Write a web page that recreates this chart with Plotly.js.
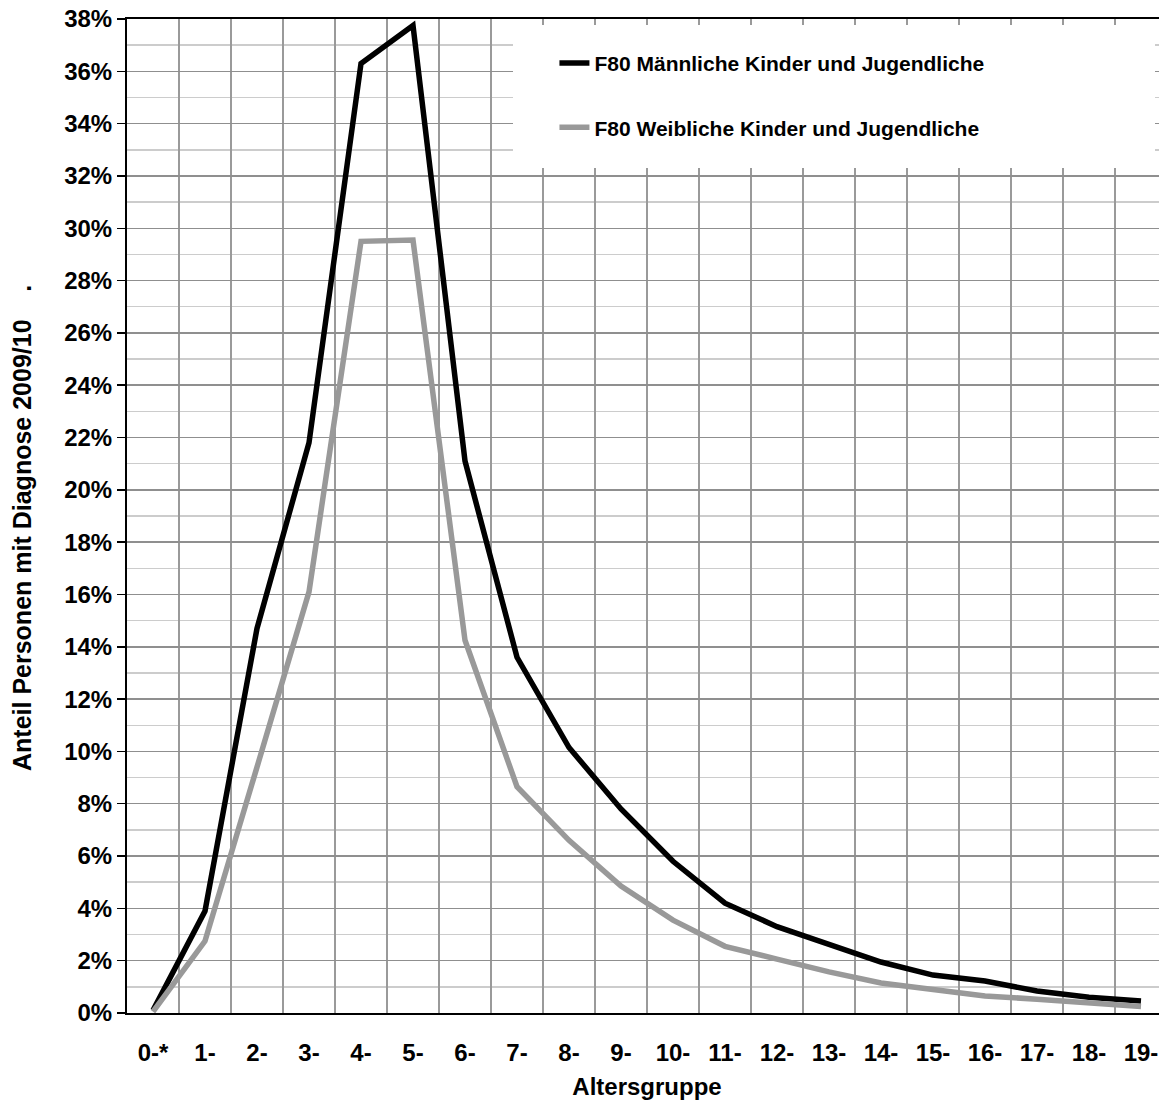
<!DOCTYPE html>
<html>
<head>
<meta charset="utf-8">
<script src="https://cdn.plot.ly/plotly-3.0.1.min.js"></script>
<style>
html,body{margin:0;padding:0;overflow:hidden;background:#fff;}
#chart{width:1180px;height:1107px;}
</style>
</head>
<body>
<div id="chart"></div>
<script>
const categories = ["0-*","1-","2-","3-","4-","5-","6-","7-","8-","9-","10-","11-","12-","13-","14-","15-","16-","17-","18-","19-"];
const maleValues = [0.1, 3.9, 14.7, 21.8, 36.3, 37.75, 21.1, 13.6, 10.15, 7.8, 5.8, 4.2, 3.3, 2.65, 1.95, 1.45, 1.22, 0.84, 0.6, 0.46];
const femaleValues = [0.05, 2.75, 9.4, 16.1, 29.5, 29.55, 14.25, 8.65, 6.6, 4.85, 3.55, 2.55, 2.06, 1.57, 1.15, 0.88, 0.65, 0.53, 0.38, 0.25];
const maleName = "F80 Männliche Kinder und Jugendliche";
const femaleName = "F80 Weibliche Kinder und Jugendliche";
const xTitle = "Altersgruppe";
const yTitle = "Anteil Personen mit Diagnose 2009/10\u00a0\u00a0\u00a0\u00a0.";

const FONT = "Liberation Sans, Arial, sans-serif";

const traces = [
  {x: categories, y: maleValues, type: "scatter", mode: "lines", name: maleName,
   legendgroup: "m", line: {color: "#000000", width: 5.5}},
  {x: categories, y: femaleValues, type: "scatter", mode: "lines", name: femaleName,
   legendgroup: "f", line: {color: "#999999", width: 5.5}}
];

const layout = {
  width: 1180, height: 1107,
  margin: {l: 127, r: 13, t: 19, b: 94},
  paper_bgcolor: "#ffffff", plot_bgcolor: "#ffffff",
  font: {family: FONT, color: "#000000"},
  showlegend: true,
  legend: {
    x: 0.411, y: 0.976, xanchor: "left", yanchor: "top",
    bgcolor: "rgba(0,0,0,0)", borderwidth: 0,
    tracegroupgap: 34,
    font: {family: FONT, size: 21, color: "#000000", weight: "bold"}
  },
  xaxis: {
    type: "category", range: [-0.5, 19.5], tickson: "boundaries",
    showgrid: true, gridcolor: "#9a9a9a", gridwidth: 2,
    showline: true, linecolor: "#000000", linewidth: 2, mirror: true,
    ticks: "", ticklabelstandoff: 17,
    tickfont: {family: FONT, size: 24, weight: "bold"},
    title: {text: xTitle, standoff: 13, font: {family: FONT, size: 24, weight: "bold"}},
    zeroline: false, fixedrange: true
  },
  yaxis: {
    range: [0, 38], dtick: 2, tick0: 0, ticksuffix: "%",
    showgrid: true, gridcolor: "#8f8f8f", gridwidth: 1.5,
    minor: {dtick: 1, showgrid: true, gridcolor: "#cccccc", gridwidth: 1.5},
    showline: true, linecolor: "#000000", linewidth: 2, mirror: true,
    ticks: "outside", ticklen: 8, tickcolor: "#000000", tickwidth: 1.5,
    tickfont: {family: FONT, size: 24, weight: "bold"},
    zeroline: false, fixedrange: true
  },
  shapes: [
    {type: "rect", xref: "paper", yref: "paper",
     x0: (513 - 127) / 1040, x1: (1155 - 127) / 1040,
     y0: (1013 - 168) / 994, y1: (1013 - 25) / 994,
     fillcolor: "#ffffff", line: {width: 0}, layer: "above"}
  ],
  annotations: [
    {text: yTitle, xref: "paper", yref: "paper",
     x: (22 - 127) / 1040, y: (1013 - 528) / 994,
     xanchor: "center", yanchor: "middle", textangle: -90, showarrow: false,
     font: {family: FONT, size: 25, weight: "bold", color: "#000000"}}
  ]
};

Plotly.newPlot("chart", traces, layout, {displayModeBar: false, staticPlot: true});
</script>
</body>
</html>
